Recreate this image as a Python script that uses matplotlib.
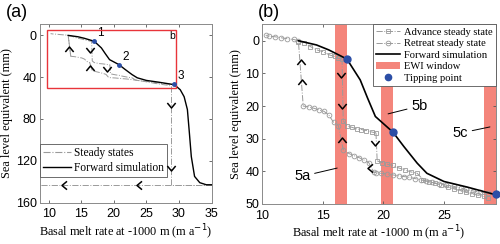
import numpy as np
import matplotlib
matplotlib.use("Agg")
import matplotlib.pyplot as plt
from matplotlib.patches import Rectangle, Patch
from matplotlib.lines import Line2D

plt.rcParams['font.family'] = ['Liberation Sans', 'DejaVu Sans']
serif = ['Liberation Serif', 'DejaVu Serif']

# --- forward simulation (full run, panel a) ---
fwd_x = [13.0, 14.5, 15.5, 17.0, 18.1, 18.7, 19.35, 20.8, 21.7, 22.8, 23.6, 25.0, 26.9, 29.3,
         30.2, 30.8, 31.3, 31.6, 31.9, 32.4, 33.2, 34.2, 35.0]
fwd_y = [0.0, 1.3, 2.8, 5.6, 12.0, 17.5, 23.2, 28.0, 32.4, 37.5, 40.6, 43.1, 44.8, 47.2,
         52.0, 58.7, 71.0, 93.0, 116.0, 135.0, 141.0, 143.0, 143.0]

# --- steady states, advance branch (squares) ---
adv_x = [13.0, 13.5, 14.0, 14.5, 15.0, 15.6, 16.0, 16.3, 16.6,
         16.7, 17.0, 17.4, 17.8, 18.2, 18.6, 19.1, 19.4,
         19.5, 19.9, 20.3, 20.8, 21.3, 21.8, 22.3, 22.8, 23.3, 23.8, 24.3,
         24.8, 25.3, 25.8, 26.3, 26.8, 27.3, 27.8, 28.3, 28.6]
adv_y = [0.3, 0.6, 1.8, 2.8, 3.3, 4.4, 4.8, 5.4, 5.5,
         24.5, 26.0, 26.5, 27.0, 27.2, 27.5, 28.0, 28.2,
         36.8, 37.3, 37.8, 38.2, 39.0, 39.6, 40.2, 40.6, 42.6, 43.2, 43.7,
         44.2, 44.8, 45.3, 45.9, 46.4, 46.9, 47.3, 47.7, 48.2]

# --- steady states, retreat branch (circles) ---
ret_x = [28.6, 28.0, 27.4, 26.8, 26.4, 25.8, 25.2, 24.6, 24.0, 23.5, 23.1, 22.6, 22.1,
         21.7, 21.3, 20.8, 20.3, 19.8, 19.4, 19.2,
         18.8, 18.4, 18.0, 17.6, 17.2, 16.7,
         16.3, 15.9, 15.5, 15.1, 14.7, 14.3, 13.9, 13.4,
         13.0, 12.6, 12.1, 11.6, 11.1, 10.6, 10.3]
ret_y = [46.7, 46.4, 46.0, 45.5, 45.1, 44.6, 44.2, 43.8, 43.4, 43.0, 42.6, 42.2, 41.8,
         41.6, 41.4, 41.1, 40.8, 40.6, 40.4, 40.2,
         37.3, 36.5, 35.8, 35.2, 34.6, 33.4,
         26.0, 25.0, 22.7, 21.6, 21.2, 20.7, 20.3, 20.0,
         0.0, -0.4, -0.6, -0.9, -1.2, -1.4, -1.7]

# panel (a) extra steady-state segments
drop_x = [28.8, 28.8, 35.0]
drop_y = [48.2, 143.0, 143.0]
low_x = [35.0, 8.6]
low_y = [143.0, 143.0]

# tipping points
tip_x = [17.0, 20.8, 29.3]
tip_y = [5.6, 28.0, 47.0]
tip_lab = ['1', '2', '3']

# EWI windows (x start, x end)
ewi = [(16.05, 17.0), (19.8, 20.8), (28.35, 29.3)]

# chevrons showing direction of the branches
chev_a = {'^': [(13.1, 12.7), (16.3, 31.0)],
          'v': [(16.3, 13.6), (19.0, 31.7), (28.8, 66.7), (28.8, 127.0)],
          '<': [(12.3, 143.0), (23.8, 143.0)]}
chev_b = {'^': [(13.2, 6.4), (13.3, 12.5), (16.6, 30.4)],
          'v': [(16.5, 10.5), (16.6, 20.0), (19.3, 31.4)],
          '<': [(18.9, 39.0)]}

gray = '#9a9a9a'
blue = '#2b4ea6'
salmon = '#f4857b'

shapes = {'^': [(-1, -0.6), (0, 0.6), (1, -0.6)],
          'v': [(-1, 0.6), (0, -0.6), (1, 0.6)],
          '<': [(0.6, -1), (-0.6, 0), (0.6, 1)]}


def draw_chevrons(ax, chev):
    for k, pts in chev.items():
        xs = [p[0] for p in pts]
        ys = [p[1] for p in pts]
        ax.plot(xs, ys, ls='none', marker=shapes[k], ms=6, mfc='none',
                mec='black', mew=1.1, zorder=6)


def style(ax):
    ax.tick_params(direction='in', top=True, right=True, labelsize=9,
                   length=2.5, width=0.6, color='#555555', pad=2)
    ax.tick_params(axis='x', pad=4)
    for s in ax.spines.values():
        s.set_color('#8a8a8a')
        s.set_linewidth(0.7)


fig = plt.figure(figsize=(5.0, 2.44), dpi=100)

# ---------------- panel (a) ----------------
ax1 = fig.add_axes([0.079, 0.17, 0.344, 0.732])
ax1.plot(adv_x, adv_y, color=gray, ls='-.', lw=0.7)
ax1.plot(ret_x, ret_y, color=gray, ls='-.', lw=0.7)
ax1.plot(drop_x, drop_y, color=gray, ls='-.', lw=0.7)
ax1.plot(low_x, low_y, color=gray, ls='-.', lw=0.7)
ax1.plot([ret_x[25], ret_x[26]], [ret_y[25], ret_y[26]], color=gray, ls='-.', lw=0.7)
ax1.plot([ret_x[33], ret_x[34]], [ret_y[33], ret_y[34]], color=gray, ls='-.', lw=0.7)
ax1.plot(fwd_x, fwd_y, color='black', lw=1.0)
ax1.plot(tip_x, tip_y, 'o', color=blue, ms=2.5, zorder=7)
for x, y, t in zip(tip_x, tip_y, tip_lab):
    ax1.text(x + 0.5, y - 2, t, fontsize=8.5, ha='left', va='bottom')
draw_chevrons(ax1, chev_a)
ax1.add_patch(Rectangle((9.7, -5), 29.5 - 9.7, 55, fill=False, ec='#e8343a', lw=1.0, zorder=5))
ax1.text(28.9, 0.5, 'b', fontsize=7.5, ha='center', va='center')
ax1.set_xlim(8.6, 35)
ax1.set_ylim(160, -11)
ax1.set_xticks([10, 15, 20, 25, 30, 35])
ax1.set_yticks([0, 40, 80, 120, 160])
style(ax1)
ax1.set_xlabel('Basal melt rate at -1000 m (m a$^{-1}$)', family=serif, fontsize=8.8, labelpad=2)
ax1.set_ylabel('Sea level equivalent (mm)', family=serif, fontsize=8.8, labelpad=2)
h1 = [Line2D([], [], color=gray, ls='-.', lw=0.8),
      Line2D([], [], color='black', lw=1.0)]
leg1 = ax1.legend(h1, ['Steady states', 'Forward simulation'], loc='lower left',
                  bbox_to_anchor=(0.005, 0.145), prop={'family': serif, 'size': 8.3},
                  fancybox=False, framealpha=1, edgecolor='#555555', borderaxespad=0,
                  handlelength=2.4, borderpad=0.25, labelspacing=0.25, handletextpad=0.3)
leg1.get_frame().set_linewidth(0.6)
fig.text(0.012, 0.985, '(a)', fontsize=13, ha='left', va='top')

# ---------------- panel (b) ----------------
ax2 = fig.add_axes([0.524, 0.164, 0.468, 0.736])
for x0, x1 in ewi:
    ax2.axvspan(x0, x1, color=salmon, lw=0, zorder=1)
ax2.plot(adv_x[:9], adv_y[:9], color=gray, ls='-.', lw=0.7, marker='s', ms=3.2, mfc='none', mew=0.6, zorder=3)
ax2.plot(adv_x[8:10], adv_y[8:10], color=gray, ls='-.', lw=0.7, zorder=3)
ax2.plot(adv_x[9:17], adv_y[9:17], color=gray, ls='-.', lw=0.7, marker='s', ms=3.2, mfc='none', mew=0.6, zorder=3)
ax2.plot(adv_x[16:18], adv_y[16:18], color=gray, ls='-.', lw=0.7, zorder=3)
ax2.plot(adv_x[17:], adv_y[17:], color=gray, ls='-.', lw=0.7, marker='s', ms=3.2, mfc='none', mew=0.6, zorder=3)
ax2.plot(ret_x, ret_y, color=gray, ls='-.', lw=0.7, marker='o', ms=3.4, mfc='none', mew=0.6, zorder=3)
ax2.plot(fwd_x[:14], fwd_y[:14], color='black', lw=1.2, zorder=4)
ax2.plot(tip_x, tip_y, 'o', color=blue, ms=5, zorder=7, clip_on=False)
draw_chevrons(ax2, chev_b)
ax2.annotate('5a', xy=(16.2, 39.0), xytext=(14.0, 41.5), fontsize=10.5, ha='right', va='center',
             arrowprops=dict(arrowstyle='-', lw=0.7, color='black', shrinkA=1, shrinkB=0))
ax2.annotate('5b', xy=(20.4, 22.4), xytext=(22.3, 20.0), fontsize=10.5, ha='left', va='center',
             arrowprops=dict(arrowstyle='-', lw=0.7, color='black', shrinkA=1, shrinkB=0))
ax2.annotate('5c', xy=(28.8, 26.4), xytext=(27.0, 28.3), fontsize=10.5, ha='right', va='center',
             arrowprops=dict(arrowstyle='-', lw=0.7, color='black', shrinkA=1, shrinkB=0))
ax2.set_xlim(10, 29.3)
ax2.set_ylim(50, -5)
ax2.set_xticks([10, 15, 20, 25])
ax2.set_yticks([0, 10, 20, 30, 40, 50])
style(ax2)
ax2.set_xlabel('Basal melt rate at -1000 m (m a$^{-1}$)', family=serif, fontsize=8.8, labelpad=2)
ax2.set_ylabel('Sea level equivalent (mm)', family=serif, fontsize=8.8, labelpad=2)
h2 = [Line2D([], [], color=gray, ls='-.', lw=0.7, marker='s', ms=3.2, mfc='none', mew=0.6),
      Line2D([], [], color=gray, ls='-.', lw=0.7, marker='o', ms=3.4, mfc='none', mew=0.6),
      Line2D([], [], color='black', lw=1.2),
      Patch(color=salmon, lw=0),
      Line2D([], [], ls='none', marker='o', color=blue, ms=4.5)]
leg2 = ax2.legend(h2, ['Advance steady state', 'Retreat steady state', 'Forward simulation',
                       'EWI window', 'Tipping point'], loc='upper right',
                  prop={'family': serif, 'size': 7.6}, fancybox=False, framealpha=1,
                  edgecolor='#555555', handlelength=2.3, borderpad=0.3,
                  labelspacing=0.2, handletextpad=0.4, borderaxespad=0.0)
leg2.get_frame().set_linewidth(0.6)
fig.text(0.515, 0.985, '(b)', fontsize=13, ha='left', va='top')

fig.savefig('out.png', dpi=100)
